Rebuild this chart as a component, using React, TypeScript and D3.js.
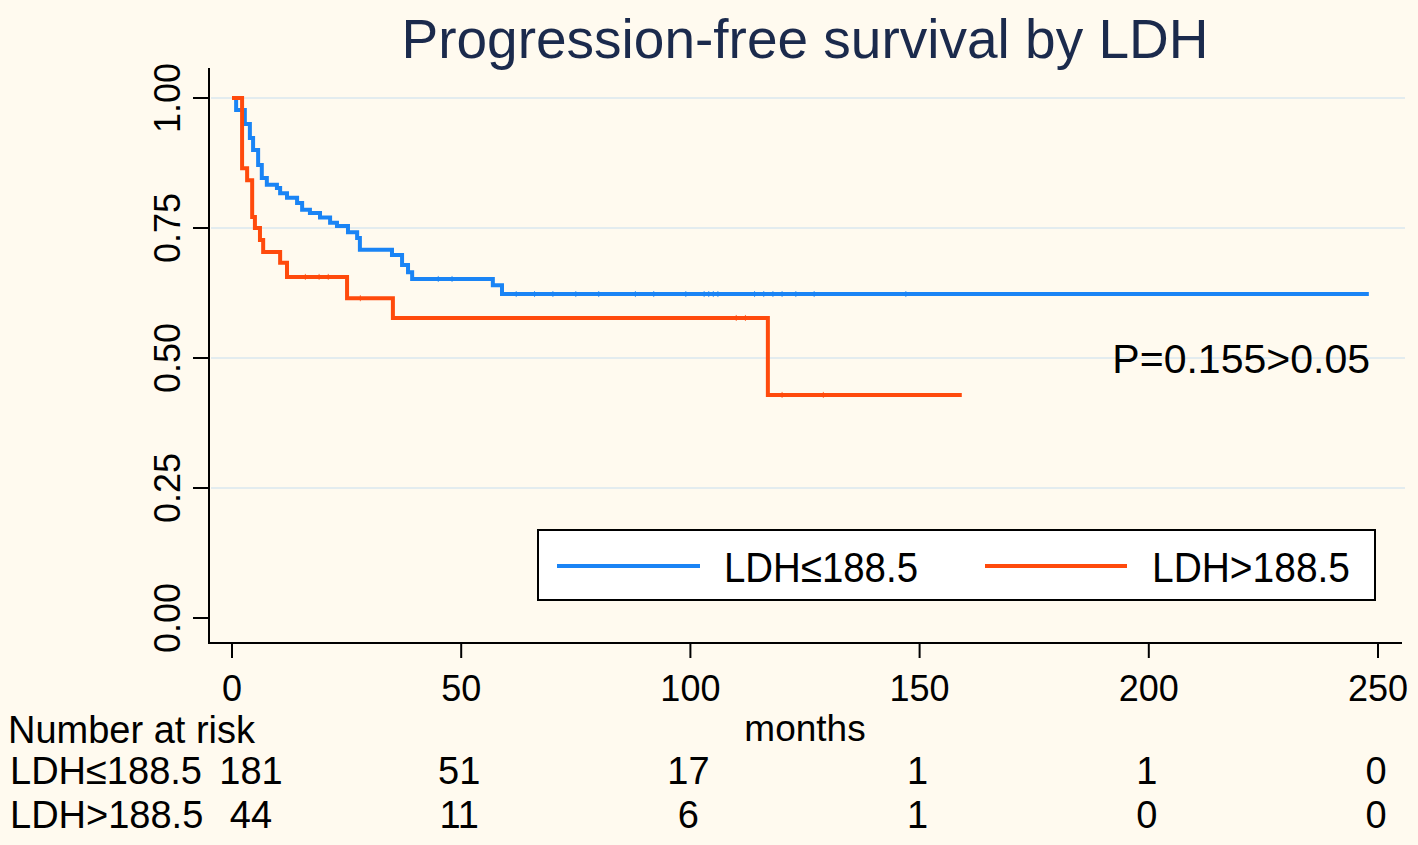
import React from "react";
import * as d3 from "d3";

// ---- data ----
const lowTimes = [0, 0.9, 2.8, 3.9, 4.6, 5.7, 6.5, 7.6, 9.8, 10.5, 12.0, 14.2, 15.3, 17.0, 19.2, 21.4, 22.9, 25.3, 27.3, 27.9, 34.9, 37.1, 38.4, 39.3, 56.9, 58.9];
const lowSurv = [1.0, 0.977, 0.95, 0.923, 0.9, 0.871, 0.846, 0.833, 0.827, 0.817, 0.808, 0.798, 0.785, 0.779, 0.77, 0.76, 0.754, 0.742, 0.731, 0.708, 0.698, 0.679, 0.665, 0.652, 0.64, 0.623];
const lowEnd = 248;
const lowCensor = [45, 48, 62, 66, 70, 75, 80, 88, 92, 99, 103, 104, 105, 106, 114, 116, 118, 120, 123, 127, 147];

const highTimes = [0, 2.2, 3.3, 4.4, 5.0, 6.1, 6.8, 10.5, 12.0, 25.1, 35.1, 116.9];
const highSurv = [1.0, 0.865, 0.842, 0.771, 0.75, 0.727, 0.704, 0.683, 0.656, 0.615, 0.577, 0.429];
const highEnd = 159.2;
const highCensor = [16, 19, 21, 28, 110, 112, 120, 129];

const xTicks = [0, 50, 100, 150, 200, 250];
const yTicks = [0, 0.25, 0.5, 0.75, 1.0];
const yGrid = [0.25, 0.5, 0.75, 1.0];

const riskTimes = [0, 50, 100, 150, 200, 250];
const riskLow = [181, 51, 17, 1, 1, 0];
const riskHigh = [44, 11, 6, 1, 0, 0];

const groupLabels = ["LDH\u2264188.5", "LDH>188.5"];
const colors = ["#1a84f5", "#ff4a0c"];

const title = "Progression-free survival by LDH";
const pText = "P=0.155>0.05";

const W = 1418;
const H = 845;
const font = "'Liberation Sans', Arial, sans-serif";

export default function App() {
  const x = d3.scaleLinear().domain([0, 250]).range([232, 1378]);
  const y = d3.scaleLinear().domain([0, 1]).range([618, 98]);

  const line = d3
    .line<[number, number]>()
    .x((d) => x(d[0]))
    .y((d) => y(d[1]))
    .curve(d3.curveStepAfter);

  const lowPts: [number, number][] = lowTimes.map((t, i) => [t, lowSurv[i]]);
  lowPts.push([lowEnd, lowSurv[lowSurv.length - 1]]);
  const highPts: [number, number][] = highTimes.map((t, i) => [t, highSurv[i]]);
  highPts.push([highEnd, highSurv[highSurv.length - 1]]);

  const survAt = (times: number[], surv: number[], t: number) => {
    let s = surv[0];
    for (let i = 0; i < times.length; i++) if (times[i] <= t) s = surv[i];
    return s;
  };

  const xAxisY = 643;
  const yAxisX = 209;

  return (
    <svg
      width={W}
      height={H}
      style={{ position: "absolute", left: 0, top: 0, display: "block" }}
      fontFamily={font}
    >
      <rect x={0} y={0} width={W} height={H} fill="#fffaef" />

      {/* title */}
      <text x={805} y={58} textAnchor="middle" fontSize={55} fill="#1b2a4c">
        {title}
      </text>

      {/* gridlines */}
      {yGrid.map((v) => (
        <line key={v} x1={yAxisX + 2} x2={1405} y1={y(v)} y2={y(v)} stroke="#e3ecef" strokeWidth={2} />
      ))}

      {/* axes */}
      <line x1={yAxisX} x2={yAxisX} y1={68} y2={xAxisY + 1} stroke="#000" strokeWidth={2} />
      <line x1={yAxisX - 1} x2={1402} y1={xAxisY} y2={xAxisY} stroke="#000" strokeWidth={2} />
      {yTicks.map((v) => (
        <g key={v}>
          <line x1={yAxisX - 16} x2={yAxisX} y1={y(v)} y2={y(v)} stroke="#000" strokeWidth={2} />
          <text
            transform={`translate(180,${y(v)}) rotate(-90)`}
            textAnchor="middle"
            fontSize={36}
            fill="#000"
          >
            {v.toFixed(2)}
          </text>
        </g>
      ))}
      {xTicks.map((v) => (
        <g key={v}>
          <line x1={x(v)} x2={x(v)} y1={xAxisY} y2={xAxisY + 15} stroke="#000" strokeWidth={2} />
          <text x={x(v)} y={701} textAnchor="middle" fontSize={36} fill="#000">
            {v}
          </text>
        </g>
      ))}
      <text x={805} y={741} textAnchor="middle" fontSize={37} fill="#000">
        months
      </text>

      {/* curves */}
      <path d={line(lowPts) || ""} fill="none" stroke={colors[0]} strokeWidth={4} />
      <path d={line(highPts) || ""} fill="none" stroke={colors[1]} strokeWidth={4} />
      {lowCensor.map((t, i) => (
        <line key={"lc" + i} x1={x(t)} x2={x(t)} y1={y(survAt(lowTimes, lowSurv, t)) - 3} y2={y(survAt(lowTimes, lowSurv, t)) + 3} stroke={colors[0]} strokeWidth={1} strokeOpacity={0.8} />
      ))}
      {highCensor.map((t, i) => (
        <line key={"hc" + i} x1={x(t)} x2={x(t)} y1={y(survAt(highTimes, highSurv, t)) - 3} y2={y(survAt(highTimes, highSurv, t)) + 3} stroke={colors[1]} strokeWidth={1} strokeOpacity={0.8} />
      ))}

      {/* p value */}
      <text x={1370} y={373} textAnchor="end" fontSize={41} fill="#000">
        {pText}
      </text>

      {/* legend */}
      <rect x={538} y={530} width={837} height={70} fill="#ffffff" stroke="#000" strokeWidth={2} />
      <line x1={557} x2={700} y1={566} y2={566} stroke={colors[0]} strokeWidth={4} />
      <text x={724} y={582} fontSize={42} textLength={194} lengthAdjust="spacingAndGlyphs" fill="#000">
        {groupLabels[0]}
      </text>
      <line x1={985} x2={1127} y1={566} y2={566} stroke={colors[1]} strokeWidth={4} />
      <text x={1152} y={582} fontSize={42} textLength={198} lengthAdjust="spacingAndGlyphs" fill="#000">
        {groupLabels[1]}
      </text>

      {/* number at risk */}
      <text x={8} y={743} fontSize={38} fill="#000">
        Number at risk
      </text>
      <text x={10} y={784} fontSize={38} fill="#000">
        {groupLabels[0]}
      </text>
      <text x={10} y={828} fontSize={38} fill="#000">
        {groupLabels[1]}
      </text>
      {riskTimes.map((t, i) => (
        <g key={"r" + t}>
          <text x={i === 0 ? x(t) + 19 : x(t) - 2} y={784} textAnchor="middle" fontSize={38} fill="#000">
            {riskLow[i]}
          </text>
          <text x={i === 0 ? x(t) + 19 : x(t) - 2} y={828} textAnchor="middle" fontSize={38} fill="#000">
            {riskHigh[i]}
          </text>
        </g>
      ))}
    </svg>
  );
}
